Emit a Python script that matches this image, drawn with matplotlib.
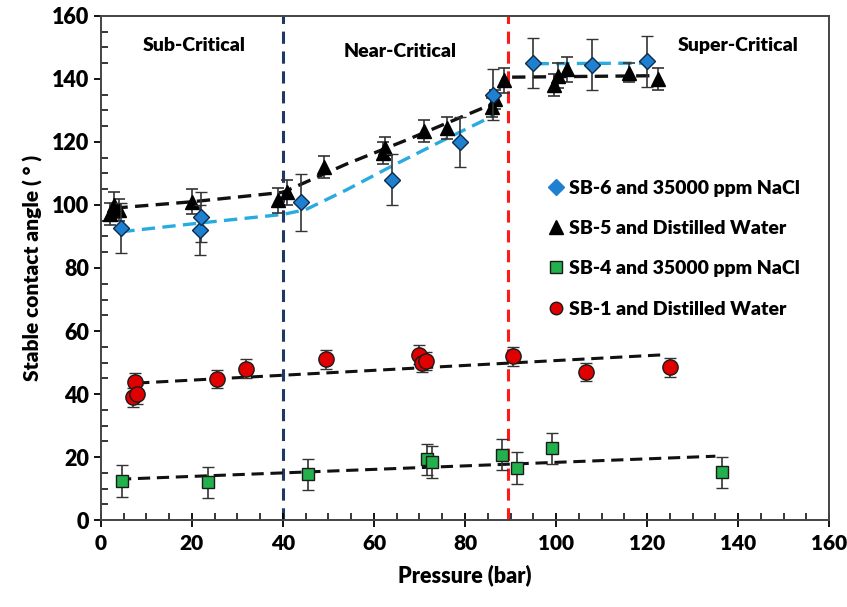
import matplotlib
matplotlib.use("Agg")
import matplotlib.pyplot as plt
from matplotlib.lines import Line2D
from matplotlib.ticker import MultipleLocator

plt.rcParams["font.family"] = ["Lato", "DejaVu Sans"]
plt.rcParams["font.weight"] = "heavy"

# SB-6 and 35000 ppm NaCl (blue diamonds)
p6 = [4.5, 21.7, 22.0, 44.0, 64.0, 79.0, 86.2, 95.0, 108.0, 120.0]
a6 = [92.7, 92.0, 96.2, 100.8, 108.0, 120.0, 135.0, 145.0, 144.5, 145.5]
e6 = [8, 8, 8, 9, 8, 8, 8, 8, 8, 8]

# SB-5 and Distilled Water (black triangles)
p5 = [2.0, 3.0, 4.0, 20.0, 39.0, 41.0, 49.0, 62.0, 62.5, 71.0, 76.0,
      86.0, 86.5, 88.5, 99.5, 100.5, 102.5, 116.0, 122.5]
a5 = [97.0, 100.0, 98.5, 101.0, 101.5, 104.0, 112.0, 116.5, 118.0, 123.5, 124.5,
      131.0, 133.5, 139.5, 138.0, 141.0, 143.0, 142.0, 140.0]
e5 = [3.5, 4, 3.5, 4, 4, 4, 3.5, 3.5, 3.5, 3.5, 3.5,
      3, 3, 4, 3.5, 4, 4, 3, 3.5]

# SB-4 and 35000 ppm NaCl (green squares)
p4 = [4.7, 23.6, 45.5, 71.6, 72.7, 88.1, 91.4, 99.2, 136.4]
a4 = [12.5, 12.0, 14.5, 19.3, 18.4, 20.8, 16.5, 22.8, 15.2]
e4 = [5, 5, 5, 5, 5, 5, 5, 5, 5]

# SB-1 and Distilled Water (red circles)
p1 = [7.0, 7.5, 8.0, 25.5, 32.0, 49.5, 70.0, 70.5, 71.5, 90.5, 106.5, 125.0]
a1 = [39.0, 43.8, 40.0, 44.8, 48.0, 51.0, 52.5, 50.0, 50.5, 52.0, 47.0, 48.5]
e1 = [3, 3, 3, 3, 3, 3, 3, 3, 3, 3, 3, 3]

# trend lines
fit6_x = [4.5, 22.0, 40.0, 45.0, 54.0, 63.5, 74.5, 86.5]
fit6_y = [91.5, 94.3, 97.0, 98.5, 104.8, 112.0, 120.0, 128.5]
fit6b_x = [95.5, 121.0]
fit6b_y = [144.8, 145.0]
fit5_x = [3.0, 20.0, 40.0, 54.0, 67.0, 86.0, 88.5, 122.0]
fit5_y = [99.0, 101.0, 104.0, 113.0, 120.5, 132.0, 140.5, 141.0]
fit4_x = [4.0, 135.0]
fit4_y = [13.0, 20.3]
fit1_x = [8.0, 124.0]
fit1_y = [43.5, 52.5]

regions = ["Sub-Critical", "Near-Critical", "Super-Critical"]
region_x = [20.6, 65.7, 140.0]
region_y = [150.5, 148.6, 150.5]
boundaries = [40.0, 89.5]
boundary_colors = ["#1f3864", "#ff1a1a"]

fig = plt.figure(figsize=(8.47, 6.07), dpi=100)
ax = fig.add_axes([0.119, 0.143, 0.860, 0.831])

dash = (0, (4, 2.2))
for bx, bc in zip(boundaries, boundary_colors):
    ax.axvline(bx, color=bc, lw=2.2, linestyle=(0, (4, 2.5)), zorder=1)

ax.plot(fit6_x, fit6_y, color="#29abe2", lw=2.4, linestyle=dash, zorder=2)
ax.plot(fit6b_x, fit6b_y, color="#29abe2", lw=2.4, linestyle=dash, zorder=2)
ax.plot(fit5_x, fit5_y, color="#111111", lw=2.4, linestyle=dash, zorder=2)
ax.plot(fit4_x, fit4_y, color="#111111", lw=2.2, linestyle=dash, zorder=2)
ax.plot(fit1_x, fit1_y, color="#111111", lw=2.2, linestyle=dash, zorder=2)

err_kw = dict(ecolor="#333333", elinewidth=1.2, capsize=4, capthick=1.2, linestyle="none")
ax.errorbar(p5, a5, yerr=e5, marker="^", ms=10, mfc="black", mec="black", zorder=3, **err_kw)
ax.errorbar(p6, a6, yerr=e6, marker="D", ms=8, mfc="#1f80d0", mec="#0d2a4a", mew=1.0, zorder=4, **err_kw)
ax.errorbar(p4, a4, yerr=e4, marker="s", ms=9, mfc="#22b14c", mec="#1a1a1a", mew=1.0, zorder=4, **err_kw)
ax.errorbar(p1, a1, yerr=e1, marker="o", ms=11, mfc="#e00000", mec="#1a1a1a", mew=1.0, zorder=4, **err_kw)

for label, rx, ry in zip(regions, region_x, region_y):
    ax.text(rx, ry, label, ha="center", va="center", fontsize=14, fontweight="heavy")

ax.set_xlim(0, 160)
ax.set_ylim(0, 160)
ax.xaxis.set_major_locator(MultipleLocator(20))
ax.xaxis.set_minor_locator(MultipleLocator(5))
ax.yaxis.set_major_locator(MultipleLocator(20))
ax.yaxis.set_minor_locator(MultipleLocator(5))
ax.tick_params(axis="x", which="major", direction="inout", length=10, width=1.3, labelsize=15, pad=5)
ax.tick_params(axis="x", which="minor", direction="in", length=5, width=1.1)
ax.tick_params(axis="y", which="major", direction="out", length=5, width=1.3, labelsize=15.5)
ax.tick_params(axis="y", which="minor", direction="in", length=5, width=1.1)
for lab in ax.get_xticklabels() + ax.get_yticklabels():
    lab.set_fontweight("heavy")
for sp in ax.spines.values():
    sp.set_color("#444444")
    sp.set_linewidth(1.4)

ax.set_xlabel("Pressure (bar)", fontsize=15.5, fontweight="heavy", labelpad=8)
ax.set_ylabel("Stable contact angle ( ° )", fontsize=15, fontweight="heavy", labelpad=6)

handles = [
    Line2D([], [], marker="D", ms=8, mfc="#1f80d0", mec="#1f80d0", linestyle="none"),
    Line2D([], [], marker="^", ms=10, mfc="black", mec="black", linestyle="none"),
    Line2D([], [], marker="s", ms=8, mfc="#22b14c", mec="#1a1a1a", linestyle="none"),
    Line2D([], [], marker="o", ms=9, mfc="#e00000", mec="#1a1a1a", linestyle="none"),
]
labels = ["SB-6 and 35000 ppm NaCl", "SB-5 and Distilled Water",
          "SB-4 and 35000 ppm NaCl", "SB-1 and Distilled Water"]
ax.legend(handles, labels, loc="upper left", bbox_to_anchor=(0.59, 0.71), frameon=False,
          prop={"size": 14, "weight": "heavy"}, handlelength=0.8, handletextpad=0.3,
          labelspacing=1.2)

fig.savefig("out.png", dpi=100)
